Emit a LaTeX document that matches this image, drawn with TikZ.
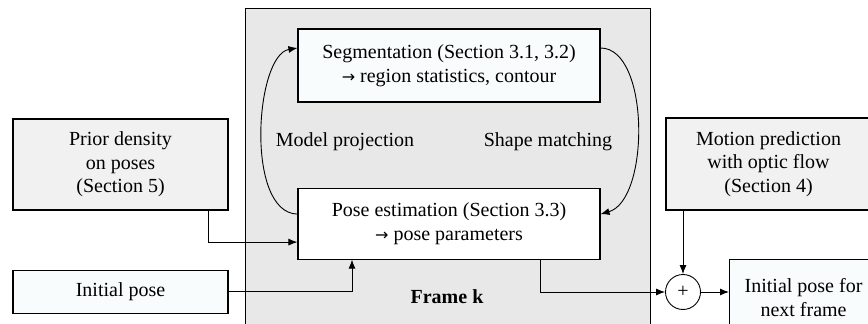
\documentclass[tikz,border=0pt]{standalone}
\usepackage{fontspec}
\setmainfont{Liberation Serif}
\newfontfamily\arrowfont{DejaVu Sans}
\usepackage{xcolor}
\usetikzlibrary{positioning,arrows.meta}

\definecolor{framegray}{HTML}{E8E8E8}
\definecolor{boxgray}{HTML}{F1F1F1}
\definecolor{paleblue}{HTML}{F8FCFD}

\newcommand{\yields}{{\arrowfont\fontsize{16}{23.5}\selectfont →}}

\tikzset{
    box/.style={draw, line width=1.1pt, align=center, inner sep=2pt},
    conn/.style={line width=0.9pt, ->}
}

\begin{document}
\begin{tikzpicture}[x=1pt, y=-1pt, font=\fontsize{20}{23.5}\selectfont, >={Latex[length=9pt,width=7pt]}]
    \useasboundingbox (0,0) rectangle (868,324);
    \clip (0,0) rectangle (868,324);

    % frame k
    \node[draw, line width=0.9pt, fill=framegray, minimum width=405pt, minimum height=345pt, anchor=north west] (frame) at (245,8) {};
    \node[font=\fontsize{20}{23.5}\selectfont\bfseries] (framek) at (447,297) {Frame k};

    \node[box, fill=paleblue, minimum width=302pt, minimum height=73pt] (seg) at (449,65.5) {Segmentation (Section 3.1, 3.2)\\\yields{} region statistics, contour};
    \node[box, fill=white, minimum width=302pt, minimum height=71pt, below=85pt of seg] (pose) {Pose estimation (Section 3.3)\\\yields{} pose parameters};
    \node (proj) at (345,142) {Model projection};
    \node (match) at (548,142) {Shape matching};

    \node[box, fill=boxgray, minimum width=215pt, minimum height=91pt] (prior) at (120.5,164.5) {Prior density\\on poses\\(Section 5)};
    \node[box, fill=paleblue, minimum width=215pt, minimum height=43pt, below=59pt of prior] (init) {Initial pose};

    \node[box, fill=boxgray, minimum width=205pt, minimum height=92pt] (motion) at (768.5,164) {Motion prediction\\with optic flow\\(Section 4)};
    \node[draw, circle, line width=0.9pt, fill=white, minimum size=35pt, inner sep=0pt] (plus) at (683,292) {+};
    \node[box, fill=paleblue, minimum width=148pt, minimum height=76pt, anchor=north west] (next) at (729,259) {Initial pose for\\next frame};

    \draw[conn] ([yshift=9.5pt]pose.west) .. controls (245,213) and (255,55) .. ([yshift=17.5pt]seg.west);
    \draw[conn] ([yshift=17.5pt]seg.east) .. controls (650,48) and (650,200) .. ([yshift=9.5pt]pose.east);

    \draw[conn] ([xshift=-20pt]prior.south east) |- ([yshift=-18.5pt]pose.west);
    \draw[conn] (init.east) -| ([xshift=-97pt]pose.south);
    \draw[conn] ([xshift=91pt]pose.south) |- (plus.west);
    \draw[conn] (plus |- motion.south) -- (plus.north);
    \draw[conn] (plus.east) -- (plus -| next.west);
\end{tikzpicture}
\end{document}
